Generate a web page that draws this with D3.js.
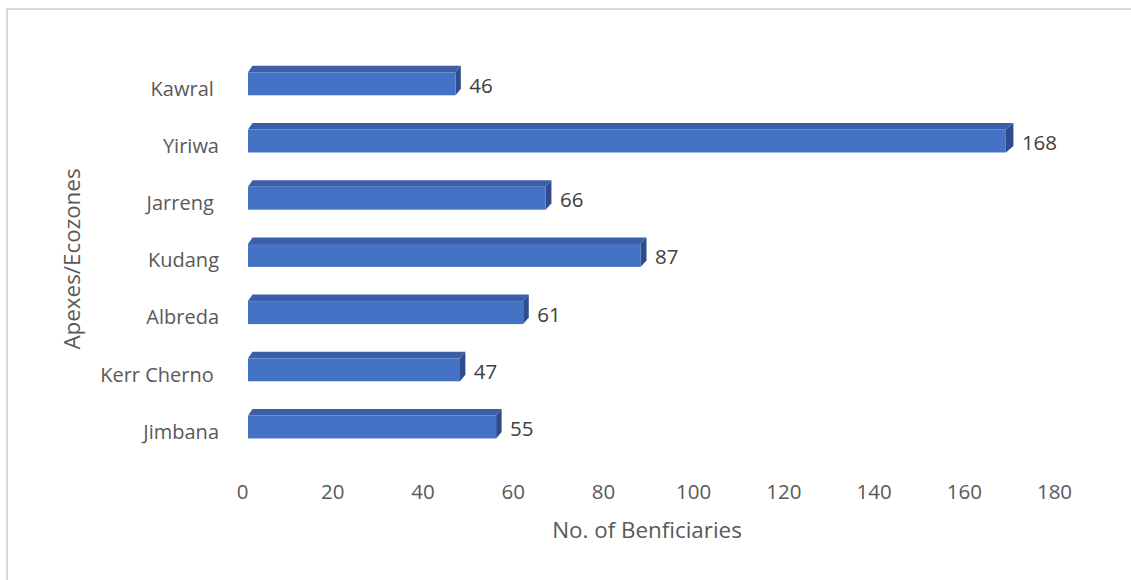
<!DOCTYPE html>
<html>
<head>
<meta charset="utf-8">
<script src="https://cdn.jsdelivr.net/npm/d3@7"></script>
<style>
  html, body { margin: 0; padding: 0; background: #fff; }
  svg { display: block; font-family: "Open Sans", "Noto Sans", sans-serif; }
  .cat { white-space: pre; }
</style>
</head>
<body>
<svg id="chart" width="1131" height="580"></svg>
<script>
// Beneficiaries per apex / ecozone (top to bottom as drawn)
const categories = ["Kawral ", "Yiriwa", "Jarreng ", "Kudang", "Albreda", "Kerr Cherno ", "Jimbana"];
const beneficiaries = [46, 168, 66, 87, 61, 47, 55];
const xTicks = [0, 20, 40, 60, 80, 100, 120, 140, 160, 180];

const svg = d3.select("#chart");

// outer chart frame (right and bottom edges run off the page)
svg.append("rect")
  .attr("x", 7).attr("y", 9)
  .attr("width", 1140).attr("height", 590)
  .attr("fill", "none")
  .attr("stroke", "#d9d9d9")
  .attr("stroke-width", 2);

const x = d3.scaleLinear().domain([0, 180]).range([248, 1060]);
const y = d3.scaleBand()
  .domain(categories)
  .range([55.2, 455.6])
  .paddingInner(0.598)
  .paddingOuter(0.299);

// depth of the 3-D bars (slightly deeper further right)
const depthY = 6.5;
const depthX = px => 4.5 + 0.004 * (px - x(0));

const bars = svg.append("g").selectAll("g")
  .data(categories.map((c, i) => ({ cat: c, value: beneficiaries[i] })))
  .join("g");

// top face
bars.append("path")
  .attr("fill", "#3A5FA8")
  .attr("d", d => {
    const x0 = x(0), x1 = x(d.value), t = y(d.cat);
    return `M${x0},${t} L${x0 + depthX(x0)},${t - depthY} L${x1 + depthX(x1)},${t - depthY} L${x1},${t} Z`;
  });

// right side face
bars.append("path")
  .attr("fill", "#2D4D8C")
  .attr("d", d => {
    const x1 = x(d.value), t = y(d.cat), b = t + y.bandwidth(), dx = depthX(x1);
    return `M${x1},${t} L${x1 + dx},${t - depthY} L${x1 + dx},${b - depthY} L${x1},${b} Z`;
  });

// front face
bars.append("rect")
  .attr("fill", "#4472C4")
  .attr("x", x(0))
  .attr("y", d => y(d.cat))
  .attr("width", d => x(d.value) - x(0))
  .attr("height", y.bandwidth());

// value labels
bars.append("text")
  .attr("x", d => x(d.value) + depthX(x(d.value)) + 8.5)
  .attr("y", d => y(d.cat) + y.bandwidth() / 2 + 3.5)
  .attr("dominant-baseline", "middle")
  .attr("font-size", 20.5)
  .attr("fill", "#404040")
  .text(d => d.value);

// category labels
svg.append("g").selectAll("text")
  .data(categories)
  .join("text")
  .attr("class", "cat")
  .attr("x", 219)
  .attr("y", d => y(d) + y.bandwidth() / 2 + 6.5)
  .attr("dominant-baseline", "middle")
  .attr("text-anchor", "end")
  .attr("font-size", 20)
  .attr("fill", "#595959")
  .text(d => d);

// value axis tick labels
svg.append("g").selectAll("text")
  .data(xTicks)
  .join("text")
  .attr("x", d => x(d) - 5.5)
  .attr("y", 499)
  .attr("text-anchor", "middle")
  .attr("font-size", 20.5)
  .attr("fill", "#595959")
  .text(d => d);

// axis titles
svg.append("text")
  .attr("x", 647)
  .attr("y", 538)
  .attr("text-anchor", "middle")
  .attr("font-size", 22.4)
  .attr("fill", "#595959")
  .text("No. of Benficiaries");

svg.append("text")
  .attr("transform", "translate(80,259) rotate(-90)")
  .attr("text-anchor", "middle")
  .attr("font-size", 22.4)
  .attr("fill", "#595959")
  .text("Apexes/Ecozones");
</script>
</body>
</html>
